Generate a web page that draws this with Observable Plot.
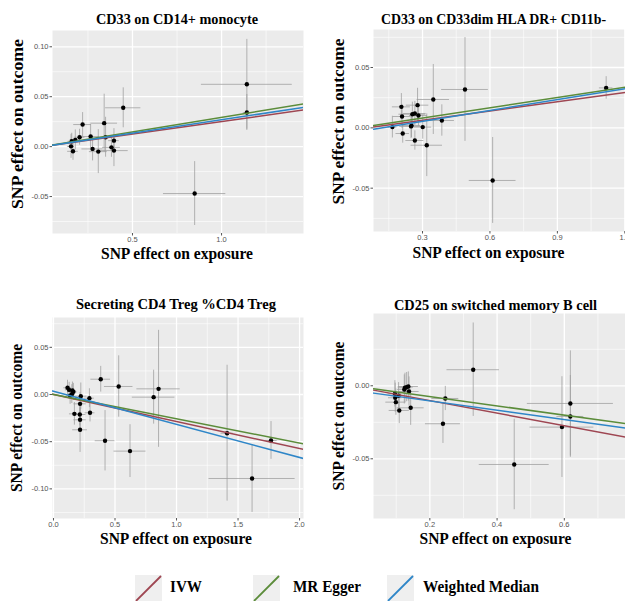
<!DOCTYPE html>
<html>
<head>
<meta charset="utf-8">
<script src="https://cdn.jsdelivr.net/npm/d3@7"></script>
<script src="https://cdn.jsdelivr.net/npm/@observablehq/plot@0.6"></script>
<style>
  body { margin: 0; background: #fff; }
  #wrap { position: relative; width: 625px; height: 601px; overflow: hidden; background: #fff; }
  .panel { position: absolute; }
  .serif { font-family: "Liberation Serif", "Times New Roman", "DejaVu Serif", serif !important; }
</style>
</head>
<body>
<div id="wrap"></div>
<script>
// ---------- Legend / methods ----------
const methods = ["IVW", "MR Egger", "Weighted Median"];
const methodColors = ["#9E4652", "#5B8C3A", "#2E86C8"];

// ---------- Panel titles ----------
const titles = [
  "CD33 on CD14+ monocyte",
  "CD33 on CD33dim HLA DR+ CD11b-",
  "Secreting CD4 Treg %CD4 Treg",
  "CD25 on switched memory B cell"
];
const xTitle = "SNP effect on exposure";
const yTitle = "SNP effect on outcome";

// ---------- Panel 1: CD33 on CD14+ monocyte ----------
const p1_x   = [1.142, 1.142, 0.849, 0.448, 0.341, 0.220, 0.203, 0.179, 0.159, 0.155, 0.166, 0.265, 0.276, 0.308, 0.349, 0.396, 0.382, 0.396];
const p1_y   = [0.0624, 0.0342, -0.047, 0.0389, 0.0235, 0.0221, 0.0094, 0.0067, 0.0054, 0.0003, -0.0047, 0.0101, -0.0023, -0.005, 0.0094, 0.006, -0.0007, -0.004];
const p1_xse = [0.255, 0.02, 0.175, 0.099, 0.075, 0.05, 0.03, 0.03, 0.02, 0.02, 0.03, 0.05, 0.06, 0.05, 0.04, 0.03, 0.05, 0.08];
const p1_yse = [0.045, 0.018, 0.032, 0.02, 0.029, 0.012, 0.008, 0.01, 0.008, 0.012, 0.009, 0.012, 0.012, 0.022, 0.02, 0.012, 0.01, 0.016];
const p1_xTicks = [0.5, 1.0];
const p1_yTicks = [-0.05, 0.00, 0.05, 0.10];
const p1_slopes = [0.0251, 0.0291, 0.0269];
const p1_intercepts = [0, 0.0002, 0];

// ---------- Panel 2: CD33 on CD33dim HLA DR+ CD11b- ----------
const p2_x   = [1.117, 0.489, 0.612, 0.348, 0.386, 0.278, 0.282, 0.266, 0.255, 0.206, 0.209, 0.166, 0.212, 0.251, 0.249, 0.301, 0.266, 0.319];
const p2_y   = [0.0331, 0.0318, -0.0436, 0.0235, 0.0061, 0.0188, 0.0102, 0.0119, 0.0113, 0.0174, 0.0094, 0.0006, -0.0047, 0.0019, 0.0012, 0.0006, -0.0105, -0.0144];
const p2_xse = [0.03, 0.104, 0.104, 0.072, 0.056, 0.05, 0.04, 0.05, 0.06, 0.04, 0.04, 0.02, 0.03, 0.04, 0.05, 0.04, 0.04, 0.07];
const p2_yse = [0.0093, 0.043, 0.0356, 0.029, 0.013, 0.014, 0.009, 0.01, 0.01, 0.011, 0.01, 0.009, 0.008, 0.01, 0.01, 0.01, 0.008, 0.026];
const p2_xTicks = [0.3, 0.6, 0.9, 1.2];
const p2_yTicks = [-0.05, 0.00, 0.05];
const p2_slopes = [0.0254, 0.0283, 0.0300];
const p2_intercepts = [-0.0013, -0.0004, -0.0036];

// ---------- Panel 3: Secreting CD4 Treg %CD4 Treg ----------
const p3_x   = [1.614, 1.411, 1.768, 0.854, 0.814, 0.530, 0.384, 0.419, 0.622, 0.292, 0.297, 0.222, 0.216, 0.214, 0.216, 0.216, 0.170, 0.114, 0.127, 0.154, 0.162, 0.149, 0.135];
const p3_y   = [-0.089, -0.041, -0.0487, 0.006, -0.0028, 0.0085, 0.0162, -0.049, -0.060, -0.0039, -0.0194, -0.0018, -0.0099, -0.0212, -0.0268, -0.0374, -0.0205, 0.0071, 0.0049, 0.0042, 0.0028, 0.0004, -0.0014];
const p3_xse = [0.35, 0.05, 0.05, 0.176, 0.173, 0.116, 0.08, 0.08, 0.13, 0.04, 0.04, 0.05, 0.05, 0.05, 0.05, 0.06, 0.04, 0.03, 0.03, 0.03, 0.03, 0.03, 0.03];
const p3_yse = [0.036, 0.072, 0.02, 0.062, 0.0286, 0.0325, 0.0136, 0.032, 0.028, 0.01, 0.0097, 0.014, 0.012, 0.012, 0.012, 0.024, 0.012, 0.008, 0.008, 0.009, 0.009, 0.01, 0.009];
const p3_xTicks = [0.0, 0.5, 1.0, 1.5, 2.0];
const p3_yTicks = [-0.10, -0.05, 0.00, 0.05];
const p3_slopes = [-0.0286, -0.0257, -0.0351];
const p3_intercepts = [0, 0, 0.0035];

// ---------- Panel 4: CD25 on switched memory B cell ----------
const p4_x   = [0.329, 0.246, 0.239, 0.451, 0.618, 0.618, 0.593, 0.143, 0.138, 0.131, 0.126, 0.136, 0.124, 0.109, 0.099, 0.097, 0.096, 0.107];
const p4_y   = [0.011, -0.0087, -0.026, -0.0539, -0.0121, -0.021, -0.0283, -0.0151, -0.0039, -0.0009, -0.0014, -0.0005, -0.0025, -0.0169, -0.0112, -0.0082, -0.0055, -0.0068];
const p4_xse = [0.078, 0.04, 0.052, 0.104, 0.128, 0.04, 0.095, 0.04, 0.03, 0.02, 0.02, 0.03, 0.02, 0.03, 0.03, 0.02, 0.02, 0.02];
const p4_yse = [0.032, 0.0083, 0.0135, 0.031, 0.036, 0.028, 0.0345, 0.012, 0.01, 0.01, 0.01, 0.01, 0.01, 0.009, 0.009, 0.01, 0.009, 0.009];
const p4_xTicks = [0.2, 0.4, 0.6];
const p4_yTicks = [-0.05, 0.00];
const p4_slopes = [-0.0428, -0.0319, -0.0319];
const p4_intercepts = [-0.0016, -0.001, -0.004];

// ---------- helpers ----------
const SERIF = "Liberation Serif, Times New Roman, DejaVu Serif, serif";
const SANS = "Liberation Sans, Arial, sans-serif";

function minorOf(ticks, domain) {
  const step = ticks.length > 1 ? ticks[1] - ticks[0] : 0.5;
  const out = ticks.map(t => t - step / 2).concat([ticks[ticks.length - 1] + step / 2]);
  const lo = Math.min(...domain), hi = Math.max(...domain);
  return out.filter(v => v > lo && v < hi);
}

function panel(cfg) {
  const idx = d3.range(cfg.x.length);
  const [x0, x1] = cfg.xDomain;
  const lineMarks = methods.map((m, k) =>
    Plot.line([x0, x1].map(x => ({x, y: cfg.intercepts[k] + cfg.slopes[k] * x})),
      {x: "x", y: "y", stroke: methodColors[k], strokeWidth: 1.5, clip: true})
  );
  const txt = {fontFamily: SERIF, fontWeight: "bold", fill: "#000", textAnchor: "middle", lineAnchor: "middle"};
  const svg = Plot.plot({
    width: cfg.w, height: cfg.h,
    marginTop: cfg.mT, marginBottom: cfg.mB, marginLeft: cfg.mL, marginRight: cfg.mR,
    x: {domain: cfg.xDomain},
    y: {domain: cfg.yDomain},
    style: {fontFamily: SANS, background: "transparent", overflow: "hidden"},
    marks: [
      Plot.frame({fill: "#EBEBEB", stroke: "none"}),
      Plot.gridX(minorOf(cfg.xTicks, cfg.xDomain), {stroke: "#fff", strokeOpacity: 1, strokeWidth: 0.6}),
      Plot.gridY(minorOf(cfg.yTicks, cfg.yDomain), {stroke: "#fff", strokeOpacity: 1, strokeWidth: 0.6}),
      Plot.gridX(cfg.xTicks, {stroke: "#fff", strokeOpacity: 1, strokeWidth: 1.3}),
      Plot.gridY(cfg.yTicks, {stroke: "#fff", strokeOpacity: 1, strokeWidth: 1.3}),
      Plot.axisX(cfg.xTicks, {tickFormat: v => v.toFixed(1), tickSize: 2.5, tickPadding: 1, fontSize: 7.5, color: "#555", label: null}),
      Plot.axisY(cfg.yTicks, {tickFormat: v => v.toFixed(2), tickSize: 2.5, tickPadding: 1.5, fontSize: 7.5, color: "#555", label: null}),
      Plot.ruleX(idx, {x: i => cfg.x[i], y1: i => cfg.y[i] - cfg.yse[i], y2: i => cfg.y[i] + cfg.yse[i], stroke: "#9c9c9c", strokeOpacity: 0.75, strokeWidth: 1, clip: true}),
      Plot.ruleY(idx, {y: i => cfg.y[i], x1: i => cfg.x[i] - cfg.xse[i], x2: i => cfg.x[i] + cfg.xse[i], stroke: "#9c9c9c", strokeOpacity: 0.75, strokeWidth: 1, clip: true}),
      Plot.dot(idx, {x: i => cfg.x[i], y: i => cfg.y[i], r: 2.2, fill: "#000", stroke: "none"}),
      ...lineMarks,
      Plot.text([cfg.title], {...txt, text: d => d, frameAnchor: "top", dx: cfg.tdx, dy: cfg.tdy, fontSize: 15}),
      Plot.text([xTitle], {...txt, text: d => d, frameAnchor: "bottom", dx: cfg.xdx, dy: cfg.xdy, fontSize: 17}),
      Plot.text([yTitle], {...txt, text: d => d, frameAnchor: "left", rotate: -90, dx: cfg.ydx, dy: cfg.ydy, fontSize: 17})
    ]
  });
  svg.querySelectorAll("text").forEach(t => {
    const L = cfg.lengths[t.textContent];
    if (L) {
      t.setAttribute("textLength", L);
      t.setAttribute("lengthAdjust", "spacingAndGlyphs");
      t.setAttribute("class", "serif");
    }
  });
  const div = document.createElement("div");
  div.className = "panel";
  div.style.left = cfg.left + "px";
  div.style.top = cfg.top + "px";
  div.appendChild(svg);
  document.getElementById("wrap").appendChild(div);
}

panel({
  left: 0, top: 0, w: 312, h: 270, mT: 30, mB: 37, mL: 52, mR: 9,
  xDomain: [0.051, 1.46], yDomain: [-0.087, 0.1163],
  x: p1_x, y: p1_y, xse: p1_xse, yse: p1_yse, xTicks: p1_xTicks, yTicks: p1_yTicks,
  slopes: p1_slopes, intercepts: p1_intercepts, title: titles[0],
  tdx: -1, tdy: -11, xdx: -1, xdy: 20, ydx: -35, ydy: -8,
  lengths: {[titles[0]]: 162, [xTitle]: 152, [yTitle]: 170}
});
panel({
  left: 312, top: 0, w: 313, h: 270, mT: 29, mB: 39, mL: 61, mR: 0,
  xDomain: [0.082, 1.203], yDomain: [-0.0859, 0.0815],
  x: p2_x, y: p2_y, xse: p2_xse, yse: p2_yse, xTicks: p2_xTicks, yTicks: p2_yTicks,
  slopes: p2_slopes, intercepts: p2_intercepts, title: titles[1],
  tdx: -6, tdy: -10, xdx: -11, xdy: 21, ydx: -35, ydy: -9,
  lengths: {[titles[1]]: 225, [xTitle]: 152, [yTitle]: 166}
});
panel({
  left: 0, top: 280, w: 312, h: 270, mT: 37, mB: 32, mL: 52, mR: 9,
  xDomain: [-0.008, 2.032], yDomain: [-0.1314, 0.0816],
  x: p3_x, y: p3_y, xse: p3_xse, yse: p3_yse, xTicks: p3_xTicks, yTicks: p3_yTicks,
  slopes: p3_slopes, intercepts: p3_intercepts, title: titles[2],
  tdx: -2, tdy: -13, xdx: -2, xdy: 20, ydx: -36, ydy: 0,
  lengths: {[titles[2]]: 200, [xTitle]: 152, [yTitle]: 148}
});
panel({
  left: 312, top: 280, w: 313, h: 270, mT: 33, mB: 32, mL: 61, mR: 0,
  xDomain: [0.0324, 0.782], yDomain: [-0.0909, 0.0495],
  x: p4_x, y: p4_y, xse: p4_xse, yse: p4_yse, xTicks: p4_xTicks, yTicks: p4_yTicks,
  slopes: p4_slopes, intercepts: p4_intercepts, title: titles[3],
  tdx: -4, tdy: -8, xdx: -4, xdy: 20, ydx: -35, ydy: 0,
  lengths: {[titles[3]]: 203, [xTitle]: 152, [yTitle]: 149}
});

// ---------- Legend ----------
const legendKeyX = [135, 253, 387];
const legendTextX = [170, 293, 423];
const legendTextLen = [32, 68, 116];
const lg = d3.select("#wrap").append("svg")
  .attr("width", 625).attr("height", 40)
  .style("position", "absolute").style("left", "0px").style("top", "563px");
methods.forEach((m, k) => {
  const g = lg.append("g").attr("transform", `translate(${legendKeyX[k]},12)`);
  g.append("rect").attr("width", 27).attr("height", 27).attr("fill", "#EFEFEF");
  g.append("line").attr("x1", 1).attr("y1", 26).attr("x2", 26).attr("y2", 1)
    .attr("stroke", methodColors[k]).attr("stroke-width", 1.8);
  lg.append("text").attr("class", "serif").attr("x", legendTextX[k]).attr("y", 25)
    .attr("dominant-baseline", "middle")
    .attr("font-weight", "bold").attr("font-size", 16)
    .attr("textLength", legendTextLen[k]).attr("lengthAdjust", "spacingAndGlyphs")
    .text(m);
});
</script>
</body>
</html>
